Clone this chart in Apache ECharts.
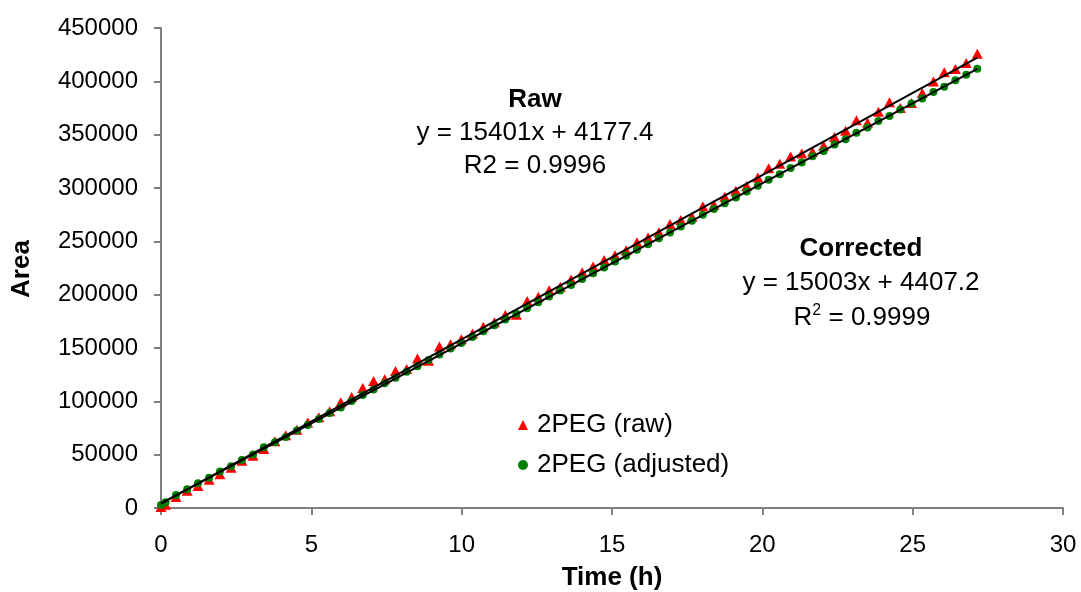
<!DOCTYPE html>
<html>
<head>
<meta charset="utf-8">
<script src="https://cdn.jsdelivr.net/npm/echarts@6/dist/echarts.min.js"></script>
<style>
  html, body { margin: 0; padding: 0; background: #fff; }
  #chart { width: 1081px; height: 592px; }
</style>
</head>
<body>
<div id="chart"></div>
<script>
// Sampling times (h)
const hours = [
  0, 0.15, 0.50, 0.87, 1.23, 1.60, 1.96, 2.33, 2.69, 3.06,
  3.42, 3.79, 4.15, 4.52, 4.88, 5.25, 5.61, 5.98, 6.34, 6.71,
  7.07, 7.44, 7.80, 8.17, 8.53, 8.90, 9.26, 9.63, 9.99, 10.36,
  10.72, 11.09, 11.45, 11.82, 12.18, 12.55, 12.91, 13.28, 13.64, 14.01,
  14.37, 14.74, 15.10, 15.47, 15.83, 16.20, 16.56, 16.93, 17.29, 17.66,
  18.02, 18.39, 18.75, 19.12, 19.48, 19.85, 20.21, 20.58, 20.94, 21.31,
  21.67, 22.04, 22.40, 22.77, 23.13, 23.50, 23.86, 24.23, 24.59, 24.96,
  25.32, 25.69, 26.05, 26.42, 26.78, 27.15
];

// 2PEG peak area, raw
const rawArea = [
  1000, 3000, 10300, 16100, 20600, 26600, 31600, 37700, 44200, 49100,
  55300, 62500, 68100, 73300, 80100, 85000, 90600, 99100, 104000, 112600,
  119100, 120800, 128400, 130300, 140100, 138100, 151300, 153500, 158300, 163700,
  169900, 174100, 181000, 181100, 194000, 198000, 204100, 207400, 214200, 220900,
  226400, 232500, 237000, 241600, 249200, 253700, 258600, 266300, 270100, 273100,
  282900, 284400, 291900, 297400, 301900, 309900, 318400, 322800, 329600, 332400,
  334000, 339600, 347700, 353700, 363400, 361100, 371600, 380300, 374900, 379600,
  389100, 399800, 408400, 411600, 417100, 425800
];

// 2PEG peak area, adjusted
const adjArea = [
  2800, 5500, 12200, 17500, 23100, 28300, 34200, 39200, 45100, 50100,
  56900, 61600, 66500, 72600, 77800, 83500, 89000, 94300, 100300, 105900,
  111200, 117000, 122000, 127800, 133000, 138800, 143800, 149500, 154700, 160300,
  165700, 171300, 176700, 182000, 187300, 192900, 198200, 203800, 209000, 214700,
  220100, 225500, 231200, 236400, 242100, 247300, 253000, 258300, 263900, 269200,
  274900, 280200, 285800, 291100, 296800, 302000, 307800, 313000, 318800, 323900,
  329700, 334800, 340800, 345800, 351700, 356700, 362700, 367600, 373600, 379200,
  384000, 390100, 395000, 401000, 406200, 411900
];

// Linear fits (slope, intercept) and their R² values
const rawFit = [15401, 4177.4];
const adjFit = [15003, 4407.2];
const rawR2 = '0.9996';
const adjR2 = '0.9999';

const xTicks = [0, 5, 10, 15, 20, 25, 30];
const yTicks = [0, 50000, 100000, 150000, 200000, 250000, 300000, 350000, 400000, 450000];

const FONT = '"Liberation Sans", Arial, Helvetica, sans-serif';

function pairs(xs, ys) { return xs.map((x, i) => [x, ys[i]]); }
function fitLine(fit) {
  const x0 = hours[0], x1 = hours[hours.length - 1];
  return [[x0, fit[0] * x0 + fit[1]], [x1, fit[0] * x1 + fit[1]]];
}

const axisGray = '#7f7f7f';

const chart = echarts.init(document.getElementById('chart'), null, { renderer: 'canvas' });
chart.setOption({
  backgroundColor: '#ffffff',
  animation: false,
  grid: { left: 161, right: 18, top: 28, bottom: 84, containLabel: false },
  xAxis: {
    type: 'value',
    min: xTicks[0], max: xTicks[xTicks.length - 1], interval: 5,
    axisLine: { lineStyle: { color: axisGray, width: 2 } },
    axisTick: { inside: false, length: 7, lineStyle: { color: axisGray, width: 2 } },
    splitLine: { show: false },
    axisLabel: { color: '#000', fontFamily: FONT, fontSize: 24, margin: 25, formatter: v => String(v) }
  },
  yAxis: {
    type: 'value',
    min: yTicks[0], max: yTicks[yTicks.length - 1], interval: 50000,
    axisLine: { show: true, lineStyle: { color: axisGray, width: 2 } },
    axisTick: { show: true, inside: false, length: 7, lineStyle: { color: axisGray, width: 2 } },
    splitLine: { show: false },
    axisLabel: { color: '#000', fontFamily: FONT, fontSize: 24, margin: 23, formatter: v => String(v) }
  },
  legend: {
    orient: 'vertical',
    left: 513, top: 405,
    itemWidth: 10, itemHeight: 10, itemGap: 10,
    textStyle: { fontFamily: FONT, fontSize: 26, color: '#000', lineHeight: 30, padding: [0, 0, 0, 4] },
    data: [
      { name: '2PEG (raw)', icon: 'triangle', itemStyle: { color: '#ff0000' } },
      { name: '2PEG (adjusted)', icon: 'circle', itemStyle: { color: '#008000' } }
    ]
  },
  series: [
    {
      name: '2PEG (raw)', type: 'scatter', z: 2,
      symbol: 'triangle', symbolSize: [11, 10],
      itemStyle: { color: '#ff0000', opacity: 1 },
      data: pairs(hours, rawArea)
    },
    {
      name: '2PEG (adjusted)', type: 'scatter', z: 3,
      symbol: 'circle', symbolSize: 8,
      itemStyle: { color: '#008000', opacity: 1 },
      data: pairs(hours, adjArea)
    },
    {
      name: 'rawFit', type: 'line', z: 4, showSymbol: false, silent: true,
      lineStyle: { color: '#000', width: 2 },
      data: fitLine(rawFit)
    },
    {
      name: 'adjFit', type: 'line', z: 4, showSymbol: false, silent: true,
      lineStyle: { color: '#000', width: 2 },
      data: fitLine(adjFit)
    }
  ],
  graphic: [
    {
      type: 'text', x: 22, y: 269, rotation: Math.PI / 2,
      style: { text: 'Area', font: 'bold 26px ' + FONT, fill: '#000',
               textAlign: 'center', textVerticalAlign: 'middle', align: 'center', verticalAlign: 'middle' }
    },
    {
      type: 'text', x: 612, y: 578,
      style: { text: 'Time (h)', font: 'bold 26px ' + FONT, fill: '#000',
               textAlign: 'center', textVerticalAlign: 'middle', align: 'center', verticalAlign: 'middle' }
    },
    {
      type: 'text', x: 535, y: 100,
      style: { text: 'Raw', font: 'bold 26px ' + FONT, fill: '#000',
               textAlign: 'center', textVerticalAlign: 'middle', align: 'center', verticalAlign: 'middle' }
    },
    {
      type: 'text', x: 535, y: 133,
      style: { text: 'y = ' + rawFit[0] + 'x + ' + rawFit[1], font: '26px ' + FONT, fill: '#000',
               textAlign: 'center', textVerticalAlign: 'middle', align: 'center', verticalAlign: 'middle' }
    },
    {
      type: 'text', x: 535, y: 166,
      style: { text: 'R2 = ' + rawR2, font: '26px ' + FONT, fill: '#000',
               textAlign: 'center', textVerticalAlign: 'middle', align: 'center', verticalAlign: 'middle' }
    },
    {
      type: 'text', x: 861, y: 249,
      style: { text: 'Corrected', font: 'bold 26px ' + FONT, fill: '#000',
               textAlign: 'center', textVerticalAlign: 'middle', align: 'center', verticalAlign: 'middle' }
    },
    {
      type: 'text', x: 861, y: 283,
      style: { text: 'y = ' + adjFit[0] + 'x + ' + adjFit[1], font: '26px ' + FONT, fill: '#000',
               textAlign: 'center', textVerticalAlign: 'middle', align: 'center', verticalAlign: 'middle' }
    },
    {
      type: 'text', x: 862, y: 318,
      style: {
        text: '{a|R}{s|2}{a| = ' + adjR2 + '}',
        fill: '#000',
        textAlign: 'center', textVerticalAlign: 'middle', align: 'center', verticalAlign: 'middle',
        rich: {
          a: { fontFamily: FONT, fontSize: 26, lineHeight: 30, fill: '#000', color: '#000' },
          s: { fontFamily: FONT, fontSize: 16, lineHeight: 30, verticalAlign: 'top', padding: [0, 0, 12, 0], fill: '#000', color: '#000' }
        }
      }
    }
  ]
});
</script>
</body>
</html>
